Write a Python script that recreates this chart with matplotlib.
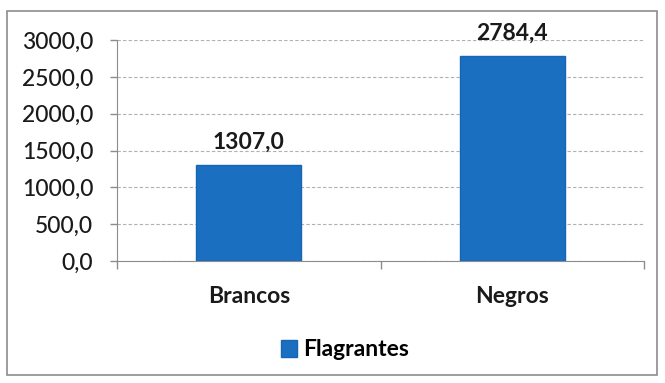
import matplotlib.pyplot as plt
from matplotlib.patches import Rectangle
import numpy as np

categories = ['Brancos', 'Negros']
values = [1307.0, 2784.4]
series_name = 'Flagrantes'
yticks = [0, 500, 1000, 1500, 2000, 2500, 3000]

plt.rcParams['font.family'] = ['Lato', 'DejaVu Sans']

W, H = 665, 383
fig = plt.figure(figsize=(W / 100, H / 100), dpi=100)

# outer chart frame
fig.patches.append(Rectangle((7 / W, 1 - 375 / H), 650 / W, 364 / H,
                             transform=fig.transFigure, fill=False,
                             edgecolor='#8c8c8c', linewidth=1.2))

ax = fig.add_axes([117 / W, 1 - 261 / H, (644 - 117) / W, (261 - 40) / H])
x = np.arange(len(categories))
bars = ax.bar(x, values, width=0.40, color='#1b6fc0', edgecolor='#1765b3', zorder=3)

ax.set_xlim(-0.5, 1.5)
ax.set_ylim(0, 3000)
ax.set_yticks(yticks)
ax.set_yticklabels([f'{v:.1f}'.replace('.', ',') for v in yticks], fontsize=16.5,
                   fontweight='medium', color='#1a1a1a')
ax.set_xticks(x)
ax.set_xticklabels(categories, fontsize=16.5, fontweight='bold', color='#1a1a1a')
ax.tick_params(axis='x', length=0, pad=18)
ax.tick_params(axis='y', length=5, color='#8c8c8c', width=1, pad=12)

# category boundary ticks on the x axis
ax.set_xticks([-0.5, 0.5, 1.5], minor=True)
ax.tick_params(axis='x', which='minor', length=6, color='#8c8c8c', width=1)

ax.grid(axis='y', linestyle=(0, (3, 2)), color='#b0b0b0', linewidth=0.8, zorder=0)
for s in ['top', 'right']:
    ax.spines[s].set_visible(False)
ax.spines['left'].set_color('#8c8c8c')
ax.spines['bottom'].set_color('#8c8c8c')

for b, v in zip(bars, values):
    ax.annotate(f'{v:.1f}'.replace('.', ','), (b.get_x() + b.get_width() / 2, v),
                xytext=(0, 9), textcoords='offset points', ha='center', va='bottom',
                fontsize=16.5, fontweight='bold', color='#1a1a1a')

fig.legend([bars[0]], [series_name], loc='center', bbox_to_anchor=(345 / W, 1 - 350 / H),
           frameon=False, prop={'size': 16.5, 'weight': 'bold'},
           handlelength=0.7, handleheight=0.7, handletextpad=0.3)

fig.savefig('out.png', dpi=100)
